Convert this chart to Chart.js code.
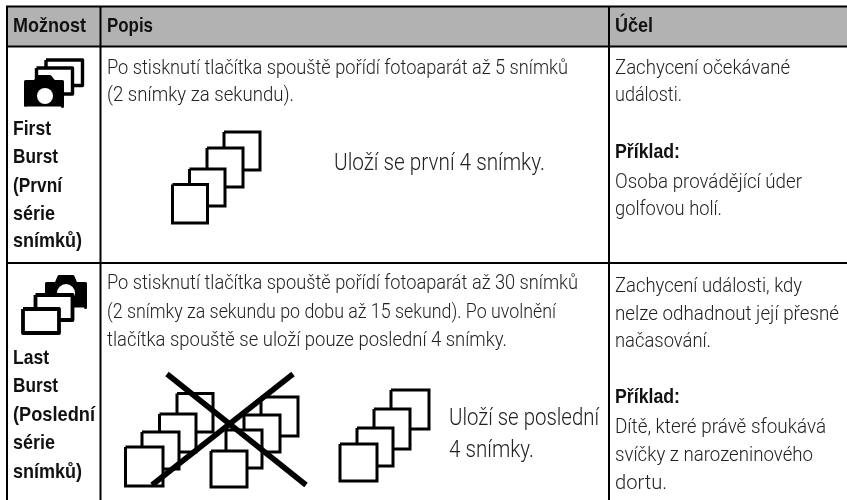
<!DOCTYPE html>
<html lang="cs">
<head>
<meta charset="utf-8">
<title>First Burst / Last Burst</title>
<style>
  html, body { margin: 0; padding: 0; background: #fff; }
  canvas { display: block; }
</style>
<script src="https://cdn.jsdelivr.net/npm/chart.js@4/dist/chart.umd.min.js"></script>
</head>
<body>
<canvas id="tabulka" width="847" height="500"></canvas>
<script>
// texty tabulky
const hlavicka = ['Možnost', 'Popis', 'Účel'];
const hlavickaX = [13, 107, 615];
const hlavickaSirky = [73, 46, 38];
const moznostTexty = ['First', 'Burst', '(První', 'série', 'snímků)', 'Last', 'Burst', '(Poslední', 'série', 'snímků)'];
const moznostY = [135, 163, 192, 220, 247, 364, 392, 421, 449, 478];
const moznostSirky = [38, 45, 49, 42, 69, 36, 45, 82, 42, 69];
const popisTexty = [
  'Po stisknutí tlačítka spouště pořídí fotoaparát až 5 snímků',
  '(2 snímky za sekundu).',
  'Po stisknutí tlačítka spouště pořídí fotoaparát až 30 snímků',
  '(2 snímky za sekundu po dobu až 15 sekund). Po uvolnění',
  'tlačítka spouště se uloží pouze poslední 4 snímky.'
];
const popisY = [74, 101, 289, 318, 346];
const popisSirky = [461, 187, 471, 449, 400];
const ulozTexty = ['Uloží se první 4 snímky.', 'Uloží se poslední', '4 snímky.'];
const ulozX = [334, 449, 449];
const ulozY = [170, 425, 457];
const ulozSirky = [211, 150, 85];
const ucelTexty = [
  'Zachycení očekávané', 'události.', 'Osoba provádějící úder', 'golfovou holí.',
  'Zachycení události, kdy', 'nelze odhadnout její přesné', 'načasování.',
  'Dítě, které právě sfoukává', 'svíčky z narozeninového', 'dortu.'
];
const ucelY = [74, 101, 188, 215, 292, 320, 347, 433, 461, 489];
const ucelSirky = [175, 67, 187, 107, 187, 224, 96, 211, 198, 52];
const prikladY = [158, 403];
const prikladSirka = 65;

// mrizka tabulky
const svisleX = [7, 100.5, 609];
const vodorovneY = [6.5, 46.5, 263];

// ctverecky, kreslene odzadu dopredu
const ctvereckyLeft = [224, 207, 189.5, 172.5, 177, 159.5, 142, 125.5, 261, 244, 226, 211, 391, 374, 357, 340];
const ctvereckyRight = [260, 243, 225, 207.5, 213, 196, 179, 163, 298, 280, 262, 247, 429, 410, 393, 377];
const ctvereckyTop = [132, 148, 169, 184.5, 393.5, 414, 432, 447, 397, 415, 430, 451, 390, 409, 428, 444];
const ctvereckyBottom = [170, 187, 206, 223, 432, 452, 469, 486, 436, 452, 468, 487, 429, 449, 466, 481];

// krizek pres prvni snimky
const krizekX = [[167, 306], [293, 152]];
const krizekY = [[374, 485], [374, 485]];

// ikony fotoaparatu
const ramecekLeft = [46, 36.5, 35.5, 23];
const ramecekRight = [82.5, 72.5, 72.5, 59];
const ramecekTop = [60, 68, 295, 309];
const ramecekBottom = [85.5, 94, 320, 333];
const teloX = [[25.5, 25.5, 35, 38, 50, 54, 62.5, 62.5], [46.5, 46.5, 56, 59, 73, 76, 85.5, 85.5]];
const teloY = [[106.5, 81.5, 81.5, 76.5, 76.5, 81.5, 81.5, 106.5], [307.5, 283.5, 283.5, 276.5, 276.5, 283.5, 283.5, 307.5]];
const objektivX = [45, 66];
const objektivY = [96, 293];

const CERNA = '#000';
const SEDA = '#b2b2b2';
const TEXT = '#222';
const TUCNE = 'bold 21px "Liberation Sans", sans-serif';
const LEHCE = '300 20px Roboto, sans-serif';
const LEHCE_VETSI = '300 23px Roboto, sans-serif';

function obdelnik(l, r, t, b) {
  return [{x: l, y: t}, {x: r, y: t}, {x: r, y: b}, {x: l, y: b}, {x: l, y: t}];
}
function body(xs, ys) {
  return xs.map((x, i) => ({x: x, y: ys[i]}));
}
function plocha(data, barva, okraj, sirka, spoj) {
  return {
    data: data, showLine: true, pointRadius: 0, tension: 0,
    fill: 'shape', backgroundColor: barva,
    borderColor: okraj, borderWidth: sirka, borderJoinStyle: spoj || 'miter'
  };
}
function cara(data, sirka) {
  return {
    data: data, showLine: true, pointRadius: 0, tension: 0, fill: false,
    borderColor: CERNA, borderWidth: sirka, borderCapStyle: 'butt'
  };
}

// poradi kresleni: co je driv, to je vespod
const vrstvy = [];
vrstvy.push(plocha(obdelnik(svisleX[0], 847, vodorovneY[0], vodorovneY[1]), SEDA, SEDA, 0));
vodorovneY.forEach(y => vrstvy.push(cara([{x: svisleX[0] - 1, y: y}, {x: 847, y: y}], 2)));
svisleX.forEach(x => vrstvy.push(cara([{x: x, y: vodorovneY[0]}, {x: x, y: 500}], 2)));

ctvereckyLeft.forEach((l, i) => {
  vrstvy.push(plocha(obdelnik(l, ctvereckyRight[i], ctvereckyTop[i], ctvereckyBottom[i]), '#fff', CERNA, 3));
});
krizekX.forEach((xs, i) => vrstvy.push(cara(body(xs, krizekY[i]), 5.5)));

// prvni ikona: ramecky za telem, druha: telo za ramecky
[0, 1].forEach(i => {
  vrstvy.push(plocha(obdelnik(ramecekLeft[i], ramecekRight[i], ramecekTop[i], ramecekBottom[i]), '#fff', CERNA, 3.4, 'round'));
});
vrstvy.push(plocha(body(teloX[0], teloY[0]), CERNA, CERNA, 3, 'round'));
vrstvy.push(plocha(body(teloX[1], teloY[1]), CERNA, CERNA, 3, 'round'));
vrstvy.push({data: [{x: objektivX[0], y: objektivY[0]}], pointRadius: 8, pointBackgroundColor: '#fff', pointBorderWidth: 0});
vrstvy.push({data: [{x: objektivX[1], y: objektivY[1]}], pointRadius: 9, pointBackgroundColor: '#fff', pointBorderWidth: 0});
[2, 3].forEach(i => {
  vrstvy.push(plocha(obdelnik(ramecekLeft[i], ramecekRight[i], ramecekTop[i], ramecekBottom[i]), '#fff', CERNA, 3.8, 'round'));
});

vrstvy.forEach((v, i) => { v.order = vrstvy.length - i; });

const textyPlugin = {
  id: 'textyTabulky',
  afterDatasetsDraw(chart) {
    const c = chart.ctx;
    const sx = chart.scales.x, sy = chart.scales.y;
    function napis(text, x, y, font, barva, sirka) {
      c.font = font;
      c.fillStyle = barva;
      c.textBaseline = 'alphabetic';
      c.textAlign = 'left';
      const k = sirka / c.measureText(text).width;
      c.save();
      c.translate(sx.getPixelForValue(x), sy.getPixelForValue(y));
      c.scale(k, 1);
      c.fillText(text, 0, 0);
      c.restore();
    }
    hlavicka.forEach((t, i) => napis(t, hlavickaX[i], 32, TUCNE, '#111', hlavickaSirky[i]));
    moznostTexty.forEach((t, i) => napis(t, 13, moznostY[i], TUCNE, '#111', moznostSirky[i]));
    prikladY.forEach(y => napis('Příklad:', 615, y, TUCNE, '#111', prikladSirka));
    popisTexty.forEach((t, i) => napis(t, 107, popisY[i], LEHCE, TEXT, popisSirky[i]));
    ucelTexty.forEach((t, i) => napis(t, 615, ucelY[i], LEHCE, TEXT, ucelSirky[i]));
    ulozTexty.forEach((t, i) => napis(t, ulozX[i], ulozY[i], LEHCE_VETSI, TEXT, ulozSirky[i]));
  }
};

new Chart(document.getElementById('tabulka'), {
  type: 'scatter',
  data: {datasets: vrstvy},
  options: {
    responsive: false,
    animation: false,
    layout: {padding: 0, autoPadding: false},
    plugins: {legend: {display: false}, tooltip: {enabled: false}, title: {display: false}},
    scales: {
      x: {type: 'linear', display: false, min: 0, max: 847},
      y: {type: 'linear', display: false, min: 0, max: 500, reverse: true}
    }
  },
  plugins: [textyPlugin]
});
</script>
</body>
</html>
